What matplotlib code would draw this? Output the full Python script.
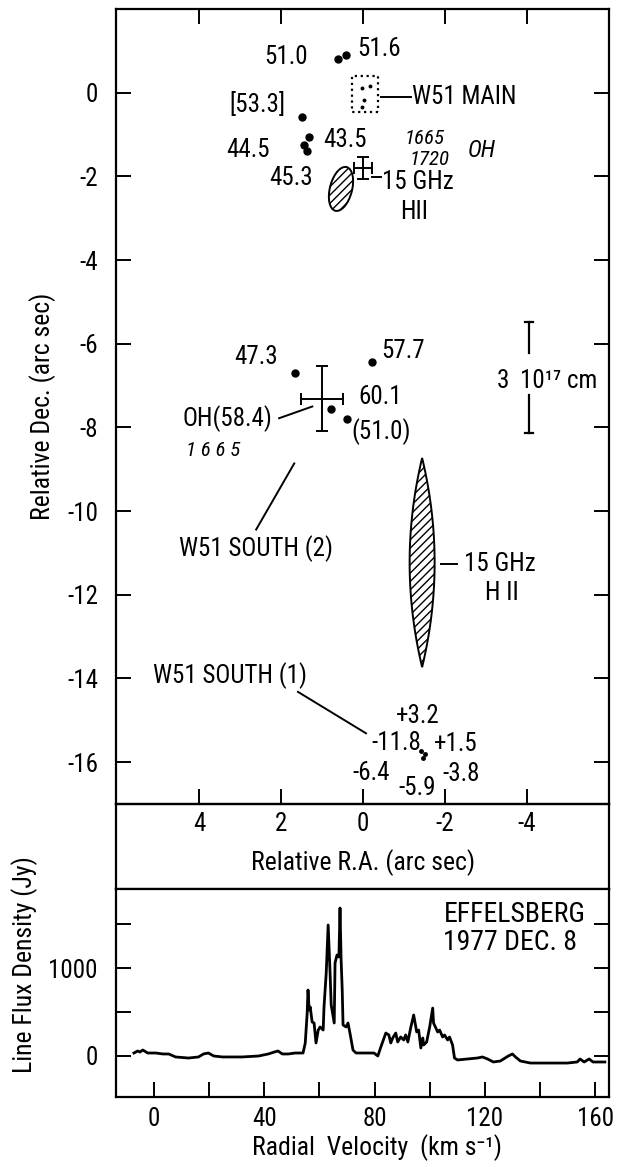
import numpy as np
import matplotlib
matplotlib.use('Agg')
import matplotlib.pyplot as plt
from matplotlib import font_manager
from matplotlib.patches import Ellipse, Rectangle, Polygon

# pick a narrow face if one is around, the original lettering is condensed
fonts = font_manager.fontManager.ttflist
names = {f.name for f in fonts}
family = 'DejaVu Sans'
stretch = 'normal'
for cand in ['Liberation Sans Narrow', 'Roboto Condensed', 'Open Sans Condensed']:
    if cand in names:
        family = cand
        break
else:
    if any(f.name == 'DejaVu Sans' and f.stretch == 'condensed' for f in fonts):
        stretch = 'condensed'
plt.rcParams['font.family'] = [family, 'DejaVu Sans']
plt.rcParams['font.stretch'] = stretch
plt.rcParams['axes.unicode_minus'] = False
plt.rcParams['hatch.linewidth'] = 1.0

# --- maser map (relative R.A., relative Dec., arc sec) ---
spot_ra = [0.61, 0.41, 1.49, 1.32, 1.44, 1.37, 1.66, -0.22, 0.78, 0.39]
spot_dec = [0.81, 0.91, -0.57, -1.05, -1.25, -1.39, -6.71, -6.44, -7.57, -7.81]
south1_ra = [-1.41, -1.50, -1.46]
south1_dec = [-15.74, -15.80, -15.90]
main_box_ra = [0.02, -0.17, -0.02, 0.02]
main_box_dec = [0.12, 0.17, -0.17, -0.34]

vel_labels = ['51.0', '51.6', '[53.3]', '44.5', '43.5', '45.3', '47.3', '57.7',
              '60.1', '(51.0)', '+3.2', '-11.8', '+1.5', '-6.4', '-5.9', '-3.8']
vel_label_ra = [1.88, -0.39, 2.59, 2.80, 0.44, 1.76, 2.61, -0.98,
                -0.41, -0.44, -1.34, -0.80, -2.27, -0.20, -1.32, -2.39]
vel_label_dec = [0.86, 1.05, -0.29, -1.37, -1.13, -2.04, -6.32, -6.18,
                 -7.28, -8.10, -14.90, -15.54, -15.57, -16.26, -16.62, -16.29]

# OH positions with errors
oh_ra = [0.0, 1.0]
oh_dec = [-1.80, -7.31]
oh_ra_err = [0.22, 0.51]
oh_dec_err = [0.27, 0.77]

# 15 GHz HII components: ra, dec, width, height, angle
hii_north = [0.54, -2.30, 0.54, 1.08, 15]
hii_south = [-1.44, -11.23, 0.61, 5.0]

# W51 MAIN box corners
main_box = [0.27, -0.37, 0.41, -0.46]

# leader lines: (ra0, ra1), (dec0, dec1)
leaders = [((-0.44, -1.17), (-0.10, -0.10)),
           ((2.05, 1.24), (-7.78, -7.50)),
           ((1.68, 2.61), (-8.86, -10.44)),
           ((1.59, -0.07), (-14.32, -15.31)),
           ((-0.22, -0.44), (-2.01, -2.01)),
           ((-1.90, -2.29), (-11.26, -11.26))]

# scale bar
bar_ra = -4.05
bar_dec = [-5.49, -6.23, -7.23, -8.14]

# --- Effelsberg spectrum ---
velocity = [-7.2, -5.8, -5.0, -4.0, -2.2, 0.7, 3.3, 5.4, 7.9, 12.6, 16.2, 18.0, 19.8,
            21.7, 24.9, 32.0, 38.0, 41.5, 43.7, 45.0, 46.6, 48.7, 51.3, 54.1, 54.9,
            55.6, 55.9, 56.3, 56.7, 57.4, 58.1, 58.8, 59.6, 60.3, 61.4, 61.7, 62.5,
            63.2, 63.9, 64.3, 65.4, 65.7, 66.4, 67.1, 67.5, 67.9, 68.3, 68.6, 69.7,
            70.4, 71.1, 72.2, 73.3, 75.1, 77.6, 79.8, 81.2, 82.3, 84.1, 85.2, 85.9,
            86.6, 87.7, 88.4, 89.5, 90.6, 91.3, 92.1, 93.1, 94.2, 95.3, 96.0, 96.8,
            97.5, 97.8, 98.9, 100.0, 101.1, 101.4, 102.9, 103.6, 104.7, 105.4, 106.5,
            107.2, 108.3, 109.0, 110.1, 113.7, 117.3, 119.1, 121.0, 123.1, 125.6,
            128.5, 130.0, 131.1, 132.9, 136.5, 143.7, 149.9, 153.5, 154.5, 156.0,
            157.8, 159.2, 163.5]
flux = [34, 57, 45, 68, 34, 34, 23, 23, -11, -23, -11, 23, 34,
        0, -11, -11, 0, 23, 45, 57, 23, 23, 34, 34, 148,
        489, 750, 523, 557, 386, 375, 148, 295, 330, 295, 557, 943,
        1489, 943, 580, 375, 1057, 1148, 1125, 1682, 1090, 750, 352, 330,
        375, 261, 68, 34, 34, 34, 34, 0, 102, 261, 239, 148,
        205, 261, 159, 216, 182, 239, 159, 318, 466, 273, 295, 91,
        205, 125, 159, 330, 545, 375, 273, 295, 216, 239, 182,
        216, 125, -23, -45, -34, -23, -11, -34, -68, -57,
        0, 23, -11, -57, -80, -80, -80, -68, -34, -68,
        -34, -68, -68]

fig = plt.figure(figsize=(6.17, 11.67), dpi=100)
L, W = 116 / 617, (609 - 116) / 617
ax = fig.add_axes([L, 1 - 804 / 1167, W, (804 - 9) / 1167])
band = fig.add_axes([L, 1 - 889 / 1167, W, (889 - 804) / 1167])
ax2 = fig.add_axes([L, 1 - 1097 / 1167, W, (1097 - 889) / 1167])

for a in (ax, band, ax2):
    for s in a.spines.values():
        s.set_linewidth(1.6)
band.set_facecolor('none')
band.set_xticks([])
band.set_yticks([])

fs = 18    # annotation size
tfs = 18   # tick labels
lfs = 18.5 # axis labels

# top map
ax.set_xlim(6.03, -6.0)
ax.set_ylim(-17.0, 2.0)
ax.set_xticks([4, 2, 0, -2, -4])
ax.set_yticks(np.arange(0, -17, -2))
ax.tick_params(direction='in', top=True, right=True, length=11, width=1.4,
               labelsize=tfs)
ax.tick_params(axis='x', pad=6)
ax.tick_params(axis='y', pad=13)
ax.set_ylabel('Relative Dec. (arc sec)', fontsize=lfs, labelpad=8)

ax.plot(spot_ra, spot_dec, 'o', color='black', ms=5)
ax.plot(south1_ra, south1_dec, 'o', color='black', ms=2.5)
ax.plot(main_box_ra, main_box_dec, 'o', color='black', ms=1.8)
ax.add_patch(Rectangle((main_box[1], main_box[3]), main_box[0] - main_box[1],
                       main_box[2] - main_box[3], fill=False, ls=':', lw=1.6))

for t, x, y in zip(vel_labels, vel_label_ra, vel_label_dec):
    ax.text(x, y, t, fontsize=fs, ha='center', va='center')

ax.errorbar(oh_ra, oh_dec, xerr=oh_ra_err, yerr=oh_dec_err, fmt='none',
            ecolor='black', elinewidth=1.4, capsize=4, capthick=1.4)

ax.add_patch(Ellipse((hii_north[0], hii_north[1]), hii_north[2], hii_north[3],
                     angle=hii_north[4], fill=False, hatch='////', lw=1.4))
s = np.linspace(-1, 1, 60)
half = hii_south[2] / 2 * (1 - s ** 2)
lens = np.column_stack([np.r_[hii_south[0] + half, hii_south[0] - half[::-1]],
                        np.r_[hii_south[1] + s * hii_south[3] / 2,
                              hii_south[1] + s[::-1] * hii_south[3] / 2]])
ax.add_patch(Polygon(lens, closed=True, fill=False, hatch='////', lw=1.4))

for xs, ys in leaders:
    ax.plot(xs, ys, color='black', lw=1.4)

ax.text(-1.20, -0.10, 'W51 MAIN', fontsize=fs, ha='left', va='center')
ax.text(-0.46, -2.13, '15 GHz', fontsize=fs, ha='left', va='center')
ax.text(-1.24, -2.85, 'HII', fontsize=fs, ha='center', va='center')
ax.text(-2.46, -11.26, '15 GHz', fontsize=fs, ha='left', va='center')
ax.text(-3.39, -11.95, 'H II', fontsize=fs, ha='center', va='center')
ax.text(3.32, -7.78, 'OH(58.4)', fontsize=fs, ha='center', va='center')
ax.text(2.61, -10.90, 'W51 SOUTH (2)', fontsize=fs, ha='center', va='center')
ax.text(3.24, -13.94, 'W51 SOUTH (1)', fontsize=fs, ha='center', va='center')

# handwritten additions
hand = dict(ha='center', va='center', fontstyle='italic')
ax.text(-1.51, -1.10, '1665', fontsize=15, **hand)
ax.text(-1.61, -1.60, '1720', fontsize=15, **hand)
ax.text(-2.90, -1.37, 'OH', fontsize=17, **hand)
ax.text(3.66, -8.55, '1 6 6 5', fontsize=15, **hand)

ax.plot([bar_ra, bar_ra], bar_dec[:2], color='black', lw=1.6)
ax.plot([bar_ra, bar_ra], bar_dec[2:], color='black', lw=1.6)
ax.plot([bar_ra + 0.1, bar_ra - 0.1], [bar_dec[0]] * 2, color='black', lw=1.6)
ax.plot([bar_ra + 0.1, bar_ra - 0.1], [bar_dec[3]] * 2, color='black', lw=1.6)
ax.text(-3.41, -6.90, '3', fontsize=fs, ha='center', va='center')
ax.text(-3.82, -6.90, '10¹⁷ cm', fontsize=fs, ha='left', va='center')

fig.text(363 / 617, 1 - 863 / 1167, 'Relative R.A. (arc sec)', fontsize=lfs,
         ha='center', va='center')

# spectrum
ax2.plot(velocity, flux, color='black', lw=2.0)
ax2.set_xlim(-13.7, 165)
ax2.set_ylim(-466, 1898)
ax2.set_xticks([0, 40, 80, 120, 160])
ax2.set_xticks([20, 60, 100, 140], minor=True)
ax2.set_yticks([0, 1000])
ax2.set_yticks([500, 1500], minor=True)
ax2.tick_params(which='both', direction='in', right=True, length=11, width=1.4,
                labelsize=tfs)
ax2.tick_params(axis='x', pad=7)
ax2.tick_params(axis='y', pad=13)
ax2.text(105, 1760, 'EFFELSBERG\n1977 DEC. 8', fontsize=20, ha='left', va='top',
         linespacing=1.05)
fig.text(25 / 617, 1 - 965 / 1167, 'Line Flux Density (Jy)', fontsize=lfs,
         rotation=90, ha='center', va='center')
fig.text(377 / 617, 1 - 1148 / 1167, 'Radial  Velocity  (km s⁻¹)', fontsize=lfs,
         ha='center', va='center')

fig.savefig('out.png', dpi=100)
